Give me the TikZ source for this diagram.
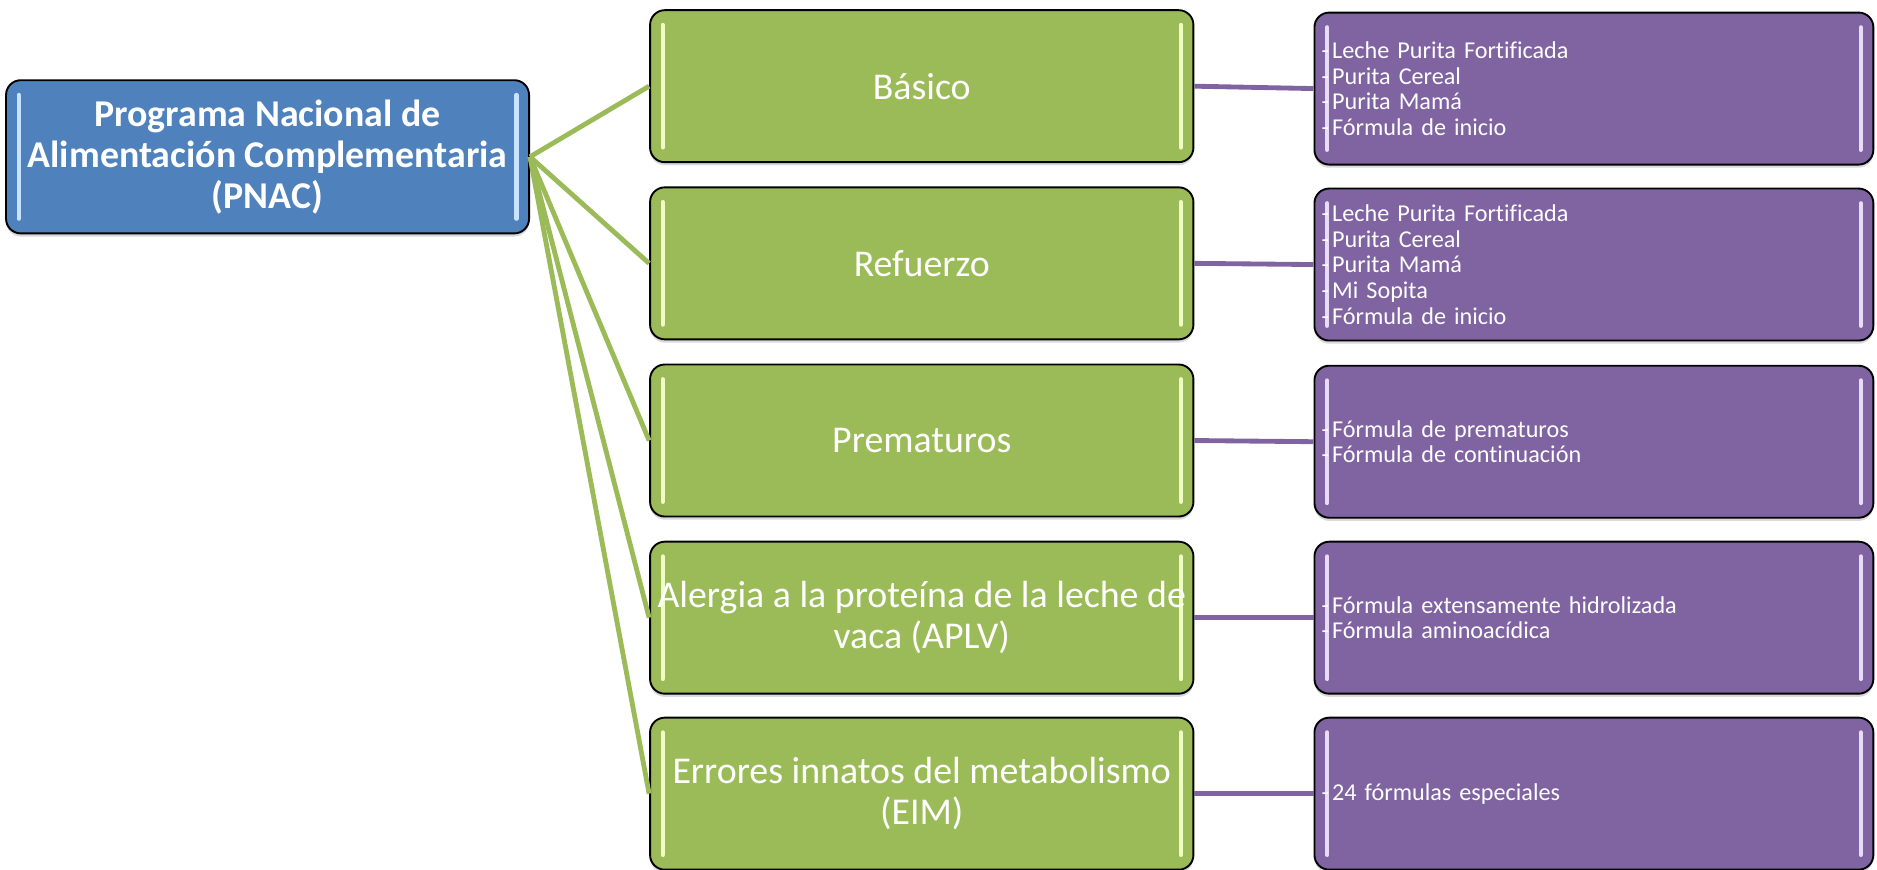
\documentclass[tikz,border=0pt]{standalone}
\usepackage{fontspec}
\setmainfont{Carlito}[Ligatures={NoCommon}]
\usetikzlibrary{shadows}

\definecolor{azul}{HTML}{4F81BD}
\definecolor{verde}{HTML}{9BBB59}
\definecolor{morado}{HTML}{8064A2}
\definecolor{azulclaro}{HTML}{C9E2FF}
\definecolor{verdeclaro}{HTML}{F0FFC4}
\definecolor{moradoclaro}{HTML}{E8DCF7}

\newcommand{\guion}[1]{\makebox[5pt][l]{-}#1}

\tikzset{
    caja/.style={draw=black, line width=0.9pt, rounded corners=7pt, text=white,
        drop shadow={shadow xshift=0pt, shadow yshift=-1.5pt, opacity=0.3},
        path picture={
            \draw[#1, line width=2pt, line cap=round]
                ([xshift=6pt,yshift=-7pt]path picture bounding box.north west) --
                ([xshift=6pt,yshift=7pt]path picture bounding box.south west);
            \draw[#1, line width=2pt, line cap=round]
                ([xshift=-6pt,yshift=-7pt]path picture bounding box.north east) --
                ([xshift=-6pt,yshift=7pt]path picture bounding box.south east);
        }},
    programa/.style={caja=azulclaro, fill=azul, minimum width=8.74cm, minimum height=2.56cm,
        align=center, font=\fontsize{18}{19.5}\selectfont\bfseries},
    subprograma/.style={caja=verdeclaro, fill=verde, minimum width=9.08cm, minimum height=2.54cm,
        align=center, font=\fontsize{18}{19.5}\selectfont},
    producto/.style={caja=moradoclaro, fill=morado, minimum width=9.34cm, minimum height=2.54cm,
        inner xsep=0.12cm, text width=9.1cm, align=left, font=\fontsize{11.5}{12.2}\selectfont},
    rama/.style={draw=verde, line width=2.3pt},
    enlace/.style={draw=morado, line width=2.3pt}
}

\begin{document}
\begin{tikzpicture}[x=0.02cm, y=-0.02cm]
    \useasboundingbox (0,0) rectangle (1568,726);

    % programa principal
    \node[programa] (pnac) at (223.5,131) {Programa Nacional de\\ Alimentación Complementaria\\ (PNAC)};

    % subprogramas
    \node[subprograma] (basico) at (770,72) {Básico};
    \node[subprograma] (refuerzo) at (770,220) {Refuerzo};
    \node[subprograma] (prematuros) at (770,368) {Prematuros};
    \node[subprograma] (aplv) at (770,516) {Alergia a la proteína de la leche de\\ vaca (APLV)};
    \node[subprograma] (eim) at (770,663) {Errores innatos del metabolismo\\ (EIM)};

    % productos
    \node[producto] (lbasico) at (1331.5,74) {\guion{Leche Purita Fortificada}\\ \guion{Purita Cereal}\\ \guion{Purita Mamá}\\ \guion{Fórmula de inicio}};
    \node[producto] (lrefuerzo) at (1331.5,221) {\guion{Leche Purita Fortificada}\\ \guion{Purita Cereal}\\ \guion{Purita Mamá}\\ \guion{Mi Sopita}\\ \guion{Fórmula de inicio}};
    \node[producto] (lprematuros) at (1331.5,369) {\guion{Fórmula de prematuros}\\ \guion{Fórmula de continuación}};
    \node[producto] (laplv) at (1331.5,516) {\guion{Fórmula extensamente hidrolizada}\\ \guion{Fórmula aminoacídica}};
    \node[producto] (leim) at (1331.5,663) {\guion{24 fórmulas especiales}};

    \foreach \s in {basico,refuerzo,prematuros,aplv,eim}
        \draw[rama] (pnac.east) -- (\s.west);

    \draw[enlace] (basico.east) -- (lbasico.west);
    \draw[enlace] (refuerzo.east) -- (lrefuerzo.west);
    \draw[enlace] (prematuros.east) -- (lprematuros.west);
    \draw[enlace] (aplv.east) -- (laplv.west);
    \draw[enlace] (eim.east) -- (leim.west);
\end{tikzpicture}
\end{document}
